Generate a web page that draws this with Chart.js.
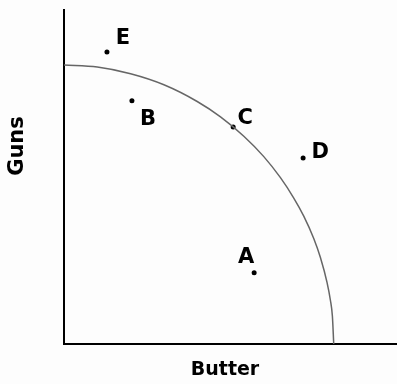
<!DOCTYPE html>
<html lang="en">
<head>
  <meta charset="UTF-8">
  <title>Guns vs Butter</title>
  <script src="https://cdn.jsdelivr.net/npm/chart.js"></script>
  <style>
    body {
      margin: 0;
      padding: 0;
      background: #fdfdfd;
    }

    .wrap {
      width: 397px;
      height: 384px;
    }
  </style>
</head>
<body>
  <div class="wrap">
    <canvas id="ppfChart" width="397" height="384"></canvas>
  </div>

  <script>
    // Production possibilities frontier
    const curveX = [0, 10, 20, 30, 40, 47, 54, 60, 65, 69, 72, 75, 77, 79, 80, 80.6, 81];
    const curveY = [83.5, 82.9, 80.9, 77.6, 72.6, 68.0, 62.2, 56.1, 49.8, 43.7, 38.3, 31.6, 25.9, 18.4, 13.1, 8.3, 0];

    // Labelled points
    const pointNames = ["E", "B", "C", "D", "A"];
    const pointX = [12.9, 20.4, 50.8, 71.8, 57.1];
    const pointY = [87.4, 72.8, 65.0, 55.7, 21.3];

    // Axis titles
    const xTitle = "Butter";
    const yTitle = "Guns";

    // where each letter sits relative to its dot (px)
    const labelOffsets = [[16, -14], [16, 19], [12, -8], [17, -5], [-8, -15]];

    const curveData = curveX.map((x, i) => ({ x: x, y: curveY[i] }));
    const pointData = pointX.map((x, i) => ({ x: x, y: pointY[i] }));

    // Draws the letters next to the dots and the two axis titles
    const labelPlugin = {
      id: "pointLabels",
      afterDatasetsDraw(chart) {
        const ctx = chart.ctx;
        const meta = chart.getDatasetMeta(1);
        ctx.save();
        ctx.fillStyle = "#000";
        ctx.textAlign = "center";
        ctx.textBaseline = "middle";
        ctx.font = "bold 21px 'DejaVu Sans'";
        meta.data.forEach((pt, i) => {
          const off = labelOffsets[i];
          ctx.fillText(pointNames[i], pt.x + off[0], pt.y + off[1]);
        });

        // x axis title
        ctx.font = "bold 19px 'DejaVu Sans'";
        ctx.fillText(xTitle, 225, 370);

        // y axis title, rotated
        ctx.font = "bold 21px 'DejaVu Sans'";
        ctx.translate(17.5, 146);
        ctx.rotate(-Math.PI / 2);
        ctx.fillText(yTitle, 0, 0);
        ctx.restore();
      }
    };

    new Chart(document.getElementById("ppfChart"), {
      type: "scatter",
      data: {
        datasets: [
          {
            label: "PPF",
            data: curveData,
            showLine: true,
            borderColor: "#666",
            borderWidth: 1.5,
            pointRadius: 0,
            cubicInterpolationMode: "monotone",
            fill: false,
          },
          {
            label: "Points",
            data: pointData,
            backgroundColor: "#000",
            borderColor: "#000",
            pointRadius: 2.5,
            borderWidth: 0,
          }
        ]
      },
      options: {
        responsive: false,
        animation: false,
        layout: {
          autoPadding: false,
          padding: { top: 10, right: 0, bottom: 0, left: 0 }
        },
        plugins: {
          legend: { display: false },
          tooltip: { enabled: false },
        },
        scales: {
          x: {
            type: "linear",
            min: 0,
            max: 100,
            grid: { display: false },
            ticks: { display: false },
            border: { display: true, color: "#000", width: 2 },
            afterFit: (scale) => { scale.height = 40; },
          },
          y: {
            type: "linear",
            min: 0,
            max: 100,
            grid: { display: false },
            ticks: { display: false },
            border: { display: true, color: "#000", width: 2 },
            afterFit: (scale) => { scale.width = 64; },
          },
        },
      },
      plugins: [labelPlugin],
    });
  </script>
</body>
</html>
